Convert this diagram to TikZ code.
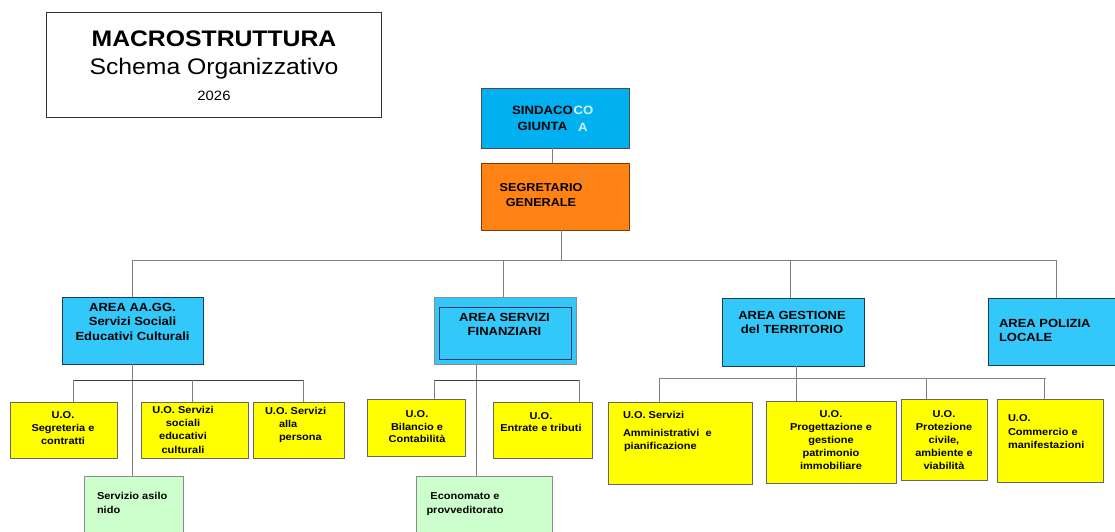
\documentclass[tikz,border=0pt]{standalone}
\usepackage{fontspec}
\setmainfont{Liberation Sans}[FakeStretch=1.1]

\definecolor{sindacoblue}{RGB}{0,176,240}
\definecolor{areablue}{RGB}{51,200,250}
\definecolor{segrorange}{RGB}{255,130,20}
\definecolor{uoyellow}{RGB}{255,255,0}
\definecolor{servgreen}{RGB}{204,255,204}
\definecolor{boxnavy}{RGB}{31,56,100}
\definecolor{linegray}{RGB}{128,128,128}
\definecolor{ghostblue}{RGB}{215,240,255}

\begin{document}
\begin{tikzpicture}[x=1pt,y=-1pt]
		\tikzset{
			every node/.style=
			{inner sep=0pt, outer sep=0pt},
			frame box/.style=
			{draw, rectangle, anchor=north west, line width=0.8pt},
			area box/.style=
			{frame box, fill=areablue, draw=boxnavy},
			uo box/.style=
			{frame box, fill=uoyellow, draw=black!60},
			serv box/.style=
			{frame box, fill=servgreen, draw=black!45},
			area text/.style=
			{font=\fontsize{11.8}{14.5}\selectfont\bfseries, align=center, anchor=north},
			uo text/.style=
			{font=\fontsize{10}{13}\selectfont\bfseries, align=center, anchor=north},
			link/.style=
			{draw=linegray, line width=0.8pt},
			sublink/.style=
			{draw=black!75, line width=0.8pt},
		}
		\useasboundingbox[fill=white] (0,0) rectangle (1115,532);
		% titolo
		\node[frame box, draw=black!80, minimum width=335pt, minimum height=105pt] (titlebox) at (46,12) {};
		\node[anchor=base, font=\fontsize{22.5}{27}\selectfont\bfseries] (titleA) at (214,47) {MACROSTRUTTURA};
		\node[anchor=base, font=\fontsize{22.5}{27}\selectfont] (titleB) at (214,75) {Schema Organizzativo};
		\node[anchor=base, font=\fontsize{13.5}{16}\selectfont] (titleC) at (214,101) {2026};
		% vertice
		\node[frame box, fill=sindacoblue, draw=black!70, minimum width=148pt, minimum height=60pt] (sindaco) at (481,88) {};
		\node[area text, font=\fontsize{12}{16.5}\selectfont\bfseries] (sindacoT) at (542.5,106) {SINDACO\\GIUNTA};
		\node[anchor=north west, font=\fontsize{12}{16.5}\selectfont\bfseries, text=ghostblue] (sindacoGhostA) at (573.5,106.5) {CO};
		\node[anchor=north west, font=\fontsize{12}{16.5}\selectfont\bfseries, text=ghostblue] (sindacoGhostB) at (578,123) {A};
		\node[frame box, fill=segrorange, draw={rgb,255:red,120;green,60;blue,10}, minimum width=148pt, minimum height=67pt] (segr) at (481,163) {};
		\node[area text, font=\fontsize{11.5}{15}\selectfont\bfseries] (segrT) at (541,183) {SEGRETARIO\\GENERALE};
		\draw[draw=black!40, line width=0.6pt] (segr.north west) ++(102,10) -- ++(0,10);
		% aree
		\node[area box, minimum width=141pt, minimum height=67pt] (aagg) at (62,297) {};
		\node[area text] (aaggT) at (132.5,303) {AREA AA.GG.\\Servizi Sociali\\Educativi Culturali};
		\node[area box, draw=black!45, minimum width=142pt, minimum height=67pt] (finanz) at (434,297) {};
		\node[frame box, draw=boxnavy, minimum width=132pt, minimum height=52pt] (finanzIn) at (439,307) {};
		\node[area text, font=\fontsize{11.8}{14}\selectfont\bfseries] (finanzT) at (504.5,313) {AREA SERVIZI\\FINANZIARI};
		\node[area box, minimum width=142pt, minimum height=68pt] (gestione) at (722,298) {};
		\node[area text, font=\fontsize{11.8}{14}\selectfont\bfseries] (gestioneT) at (792,311) {AREA GESTIONE\\del TERRITORIO};
		\node[area box, minimum width=130pt, minimum height=67pt] (polizia) at (988,298) {};
		\node[area text, font=\fontsize{11.8}{14}\selectfont\bfseries, anchor=north west, align=left] (poliziaT) at (999,319) {AREA POLIZIA\\LOCALE};
		% unita' operative
		\node[uo box, minimum width=107pt, minimum height=56pt] (uoSegr) at (10,402) {};
		\node[uo text] (uoSegrT) at (63,412) {U.O.\\Segreteria e\\contratti};
		\node[uo box, minimum width=107pt, minimum height=56pt] (uoSociali) at (141,402) {};
		\node[uo text, font=\fontsize{10}{13.3}\selectfont\bfseries] (uoSocialiT) at (183,406) {U.O. Servizi\\sociali\\educativi\\culturali};
		\node[uo box, minimum width=91pt, minimum height=56pt] (uoPersona) at (253,402) {};
		\node[uo text, anchor=north west, align=left] (uoPersonaT) at (265,407) {U.O. Servizi\\\hspace*{14pt}alla\\\hspace*{14pt}persona};
		\node[serv box, minimum width=99pt, minimum height=70pt] (asilo) at (84,476) {};
		\node[uo text, font=\fontsize{10}{14}\selectfont\bfseries, anchor=north west, align=left] (asiloT) at (97,492) {Servizio asilo\\nido};
		\node[uo box, minimum width=98pt, minimum height=57pt] (uoBilancio) at (367,399) {};
		\node[uo text, font=\fontsize{10}{12.5}\selectfont\bfseries] (uoBilancioT) at (417,411) {U.O.\\Bilancio e\\Contabilità};
		\node[uo box, minimum width=99pt, minimum height=56pt] (uoEntrate) at (493,402) {};
		\node[uo text, font=\fontsize{10}{12}\selectfont\bfseries] (uoEntrateT) at (541,413) {U.O.\\Entrate e tributi};
		\node[serv box, minimum width=136pt, minimum height=70pt] (economato) at (416,476) {};
		\node[uo text, font=\fontsize{10}{13.5}\selectfont\bfseries] (economatoT) at (465,493) {Economato e\\provveditorato};
		\node[uo box, minimum width=144pt, minimum height=82pt] (uoAmmin) at (608,402) {};
		\node[uo text, anchor=north west, align=left] (uoAmminT) at (623,411) {U.O. Servizi\\[5pt]Amministrativi\ \ e\\\hspace*{1pt}pianificazione};
		\node[uo box, minimum width=130pt, minimum height=82pt] (uoProgett) at (766,401) {};
		\node[uo text] (uoProgettT) at (831,411) {U.O.\\Progettazione e\\gestione\\patrimonio\\immobiliare};
		\node[uo box, minimum width=86pt, minimum height=81pt] (uoProtez) at (901,399) {};
		\node[uo text] (uoProtezT) at (944,411) {U.O.\\Protezione\\civile,\\ambiente e\\viabilità};
		\node[uo box, minimum width=106pt, minimum height=83pt] (uoComm) at (997,399) {};
		\node[uo text, font=\fontsize{10}{13.5}\selectfont\bfseries, anchor=north west, align=left] (uoCommT) at (1008,415) {U.O.\\Commercio e\\manifestazioni};
		% collegamenti
		\coordinate (busMain) at (0,260);
		\coordinate (subA) at (0,380);
		\coordinate (subB) at (0,380);
		\coordinate (subC) at (0,378);
		\draw[link] ([xshift=-3pt]sindaco.south) -- ([xshift=-3pt]segr.north);
		\draw[link] ([xshift=6pt]segr.south) -- ([xshift=6pt]segr.south |- busMain);
		\draw[link] (aagg.north |- busMain) -- ([xshift=3pt]polizia.north |- busMain);
		\foreach \n/\s in {aagg/0, finanz/-2, gestione/-3, polizia/3}
			\draw[link] ([xshift=\s pt]\n.north |- busMain) -- ([xshift=\s pt]\n.north);
		\draw[link] (aagg.south) -- (aagg.south |- asilo.north);
		\draw[sublink] ([xshift=9.5pt]uoSegr.north |- subA) -- ([xshift=5pt]uoPersona.north |- subA);
		\foreach \n/\s in {uoSegr/9.5, uoSociali/-2.5, uoPersona/4.5}
			\draw[link] ([xshift=\s pt]\n.north |- subA) -- ([xshift=\s pt]\n.north);
		\draw[link] ([xshift=-29pt]finanz.south) -- ([xshift=-29pt]finanz.south |- economato.north);
		\draw[sublink] ([xshift=18pt]uoBilancio.north |- subB) -- ([xshift=36.5pt]uoEntrate.north |- subB);
		\foreach \n/\s in {uoBilancio/18, uoEntrate/36.5}
			\draw[link] ([xshift=\s pt]\n.north |- subB) -- ([xshift=\s pt]\n.north);
		\draw[link] ([xshift=3pt]gestione.south) -- ([xshift=3pt]gestione.south |- uoProgett.north);
		\draw[link] ([xshift=-21pt]uoAmmin.north |- subC) -- ([xshift=-4pt]uoComm.north |- subC);
		\foreach \n/\s in {uoAmmin/-21, uoProtez/-18, uoComm/-6}
			\draw[link] ([xshift=\s pt]\n.north |- subC) -- ([xshift=\s pt]\n.north);
\end{tikzpicture}
\end{document}
